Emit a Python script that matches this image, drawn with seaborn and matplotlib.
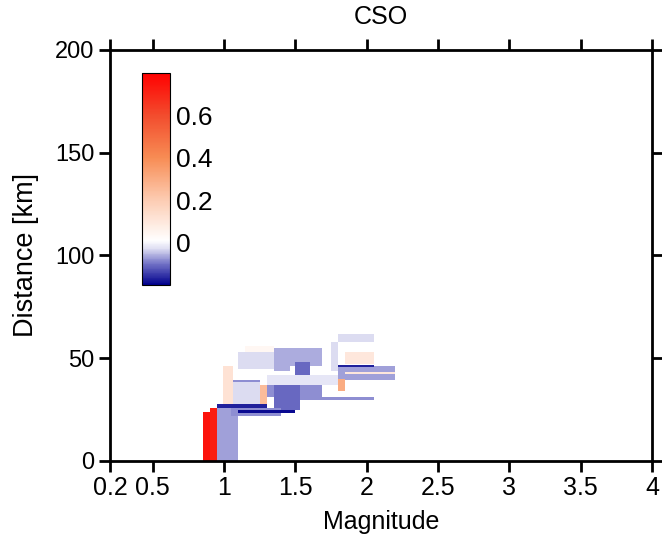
import numpy as np
import pandas as pd
import matplotlib
matplotlib.use("Agg")
import matplotlib.pyplot as plt
from matplotlib.colors import LinearSegmentedColormap, Normalize
from matplotlib import font_manager
import seaborn as sns

sns.set_style("ticks")
plt.rcParams['font.family'] = ['Liberation Sans', 'DejaVu Sans']
for k in ['text.color', 'axes.labelcolor', 'xtick.color', 'ytick.color', 'axes.edgecolor']:
    plt.rcParams[k] = 'black'

names = {f.name for f in font_manager.fontManager.ttflist}
narrow = ['Liberation Sans Narrow', 'Liberation Sans'] if 'Liberation Sans Narrow' in names else ['Liberation Sans']

# Rectangular cells: magnitude range, distance range, value (drawn in order)
mag_lo  = [1.10, 1.15, 1.35, 1.46, 1.50, 1.75, 1.80, 1.85, 1.80, 1.80, 1.85, 1.80,
           0.99, 1.06, 1.06, 1.25, 1.30, 1.30, 1.35, 1.53, 0.95, 1.05, 0.95, 1.10, 0.85, 0.90]
mag_hi  = [1.35, 1.35, 1.46, 1.69, 1.60, 1.80, 2.05, 2.05, 2.20, 2.05, 2.20, 1.85,
           1.06, 1.25, 1.25, 1.30, 1.80, 1.69, 1.53, 2.05, 1.10, 1.40, 1.30, 1.50, 0.90, 0.95]
dist_lo = [45, 53, 44, 46, 42, 44, 58, 47, 39.5, 45.5, 42.5, 34,
           27, 27, 38.5, 27, 37, 31, 25, 29.5, 0, 22, 26, 23.5, 0, 0]
dist_hi = [53, 56, 55, 55, 48, 58, 62, 53, 46, 46.5, 43.5, 40,
           46, 39, 39.5, 37, 42, 37, 37, 31, 26.5, 26, 27.5, 25, 24, 26]
value   = [-0.03, 0.04, -0.06, -0.06, -0.11, -0.03, -0.03, 0.10, -0.07, -0.17, 0.10, 0.30,
           0.12, -0.03, -0.08, 0.25, -0.02, -0.08, -0.11, -0.08, -0.07, -0.08, -0.17, -0.19, 0.75, 0.72]

xticks = [0.2, 0.5, 1, 1.5, 2, 2.5, 3, 3.5, 4]
xticklabels = ["0.2", "0.5", "1", "1.5", "2", "2.5", "3", "3.5", "4"]
yticks = [0, 50, 100, 150, 200]
cbticks = [0, 0.2, 0.4, 0.6]
cblabels = ["0", "0.2", "0.4", "0.6"]

df = pd.DataFrame(dict(mag_lo=mag_lo, mag_hi=mag_hi, dist_lo=dist_lo, dist_hi=dist_hi, value=value))

cmap = LinearSegmentedColormap.from_list("cso", [
    (0.00, (0.0, 0.0, 0.55)),
    (0.10, (0.45, 0.45, 0.78)),
    (0.17, (0.87, 0.87, 0.95)),
    (0.21, (1.0, 1.0, 1.0)),
    (0.40, (0.99, 0.80, 0.70)),
    (0.60, (0.97, 0.55, 0.33)),
    (0.80, (0.95, 0.30, 0.18)),
    (1.00, (1.0, 0.0, 0.0)),
])
norm = Normalize(vmin=-0.2, vmax=0.8)

fig = plt.figure(figsize=(6.62, 5.44), dpi=100)
ax = fig.add_axes([0.166, 0.1526, 0.819, 0.7555])

ax.bar(df.mag_lo, df.dist_hi - df.dist_lo, width=df.mag_hi - df.mag_lo, bottom=df.dist_lo,
       align='edge', color=[cmap(norm(v)) for v in df.value], linewidth=0)

ax.set_xlim(0.2, 4)
ax.set_ylim(0, 200)
ax.set_xticks(xticks)
ax.set_xticklabels(xticklabels, fontsize=18, family=narrow)
ax.set_yticks(yticks)
ax.set_yticklabels([str(t) for t in yticks], fontsize=17)
ax.tick_params(axis='both', which='both', direction='out', length=8, width=2,
               top=True, right=True, labeltop=False, labelright=False, pad=3)
for s in ax.spines.values():
    s.set_linewidth(2)
ax.set_xlabel("Magnitude", fontsize=18, family=narrow, labelpad=7)
ax.set_ylabel("Distance [km]", fontsize=19.5, labelpad=12)
ax.set_title("CSO", fontsize=18, pad=19)

cax = ax.inset_axes([0.059, 0.428, 0.052, 0.516])
sm = matplotlib.cm.ScalarMappable(norm=norm, cmap=cmap)
cb = fig.colorbar(sm, cax=cax)
cb.set_ticks(cbticks)
cb.set_ticklabels(cblabels)
cax.tick_params(direction='in', length=3, width=0.8, labelsize=19, left=True, right=True, pad=4)
cb.outline.set_linewidth(0.8)

fig.savefig("out.png", dpi=100)
